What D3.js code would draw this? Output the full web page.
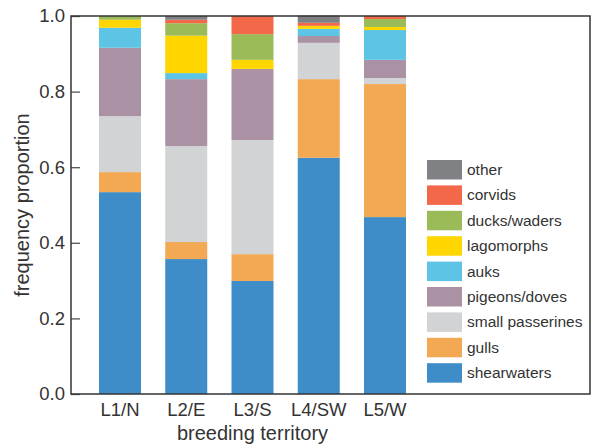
<!DOCTYPE html>
<html>
<head>
<meta charset="utf-8">
<script src="https://cdn.jsdelivr.net/npm/d3@7"></script>
<style>
    body { margin: 0; background: #fff; }
    svg text { font-family: "Liberation Sans", Arial, sans-serif; fill: #333; }
</style>
</head>
<body>
<svg id="chart" width="596" height="447"></svg>
<script>
// territories along the x axis
const territories = ["L1/N", "L2/E", "L3/S", "L4/SW", "L5/W"];

// stack order, bottom to top
const groups = ["shearwaters", "gulls", "small passerines", "pigeons/doves", "auks",
    "lagomorphs", "ducks/waders", "corvids", "other"];

// proportion of each prey group per territory
const shearwaters     = [0.534, 0.357, 0.299, 0.625, 0.468];
const gulls           = [0.053, 0.045, 0.071, 0.208, 0.352];
const smallPasserines = [0.148, 0.254, 0.302, 0.096, 0.016];
const pigeonsDoves    = [0.181, 0.177, 0.188, 0.018, 0.048];
const auks            = [0.053, 0.016, 0.000, 0.019, 0.079];
const lagomorphs      = [0.021, 0.099, 0.024, 0.008, 0.008];
const ducksWaders     = [0.010, 0.033, 0.068, 0.000, 0.021];
const corvids         = [0.000, 0.009, 0.048, 0.008, 0.008];
const other           = [0.000, 0.010, 0.000, 0.019, 0.000];

const yTicks = [0, 0.2, 0.4, 0.6, 0.8, 1.0];

const colours = ["#3f8dc8", "#f3a953", "#d1d3d4", "#ab91a4", "#5ec4e6",
    "#ffd600", "#9bbb59", "#f26849", "#808184"];

const seriesValues = [shearwaters, gulls, smallPasserines, pigeonsDoves, auks,
    lagomorphs, ducksWaders, corvids, other];

// build rows for d3.stack
const rows = territories.map((t, i) => {
    const row = {territory: t};
    groups.forEach((g, j) => { row[g] = seriesValues[j][i]; });
    return row;
});

const margin = {left: 71, top: 16, right: 590, bottom: 394};

const svg = d3.select("#chart");

const x = d3.scaleBand()
    .domain(territories)
    .range([margin.left, 434])
    .paddingInner(0.366)
    .paddingOuter(0.4226);

const y = d3.scaleLinear().domain([0, 1]).range([margin.bottom, margin.top]);

const colour = d3.scaleOrdinal().domain(groups).range(colours);

const stacked = d3.stack().keys(groups)(rows);

// bars
svg.append("g")
    .selectAll("g")
    .data(stacked)
    .enter().append("g")
    .attr("fill", d => colour(d.key))
    .selectAll("rect")
    .data(d => d)
    .enter().append("rect")
    .attr("x", d => x(d.data.territory))
    .attr("width", x.bandwidth())
    .attr("y", d => y(d[1]))
    .attr("height", d => y(d[0]) - y(d[1]));

// y axis: inward ticks
const yAxis = d3.axisRight(y).tickValues(yTicks).tickFormat(d3.format(".1f")).tickSize(9);
const yg = svg.append("g")
    .attr("transform", "translate(" + margin.left + ",0)")
    .call(yAxis);
yg.select(".domain").remove();
yg.selectAll(".tick line").attr("stroke", "#555").attr("stroke-width", 1.3);
yg.selectAll(".tick text")
    .attr("x", -6)
    .attr("text-anchor", "end")
    .attr("font-size", 18.5)
    .style("font-family", "'Liberation Sans', Arial, sans-serif")
    .attr("fill", "#333");

// x axis labels only
const xAxis = d3.axisBottom(x).tickSize(0).tickPadding(9);
const xg = svg.append("g")
    .attr("transform", "translate(0," + margin.bottom + ")")
    .call(xAxis);
xg.select(".domain").remove();
xg.selectAll(".tick text")
    .attr("font-size", 18.5)
    .style("font-family", "'Liberation Sans', Arial, sans-serif")
    .attr("fill", "#333");

// frame
svg.append("rect")
    .attr("x", margin.left)
    .attr("y", margin.top)
    .attr("width", margin.right - margin.left)
    .attr("height", margin.bottom - margin.top)
    .attr("fill", "none")
    .attr("stroke", "#333")
    .attr("stroke-width", 1.5);

// axis titles
svg.append("text")
    .attr("x", (margin.left + 434) / 2)
    .attr("y", 440)
    .attr("text-anchor", "middle")
    .attr("font-size", 20)
    .text("breeding territory");

svg.append("text")
    .attr("transform", "translate(28.5," + ((margin.top + margin.bottom) / 2) + ") rotate(-90)")
    .attr("text-anchor", "middle")
    .attr("font-size", 20)
    .text("frequency proportion");

// legend, top entry is the last stacked group
const legendKeys = groups.slice().reverse();
const legend = svg.append("g")
    .selectAll("g")
    .data(legendKeys)
    .enter().append("g")
    .attr("transform", (d, i) => "translate(427," + (160 + i * 25.4) + ")");

legend.append("rect")
    .attr("width", 35)
    .attr("height", 19.5)
    .attr("fill", d => colour(d));

legend.append("text")
    .attr("x", 40)
    .attr("y", 15)
    .attr("font-size", 15.5)
    .text(d => d);
</script>
</body>
</html>
